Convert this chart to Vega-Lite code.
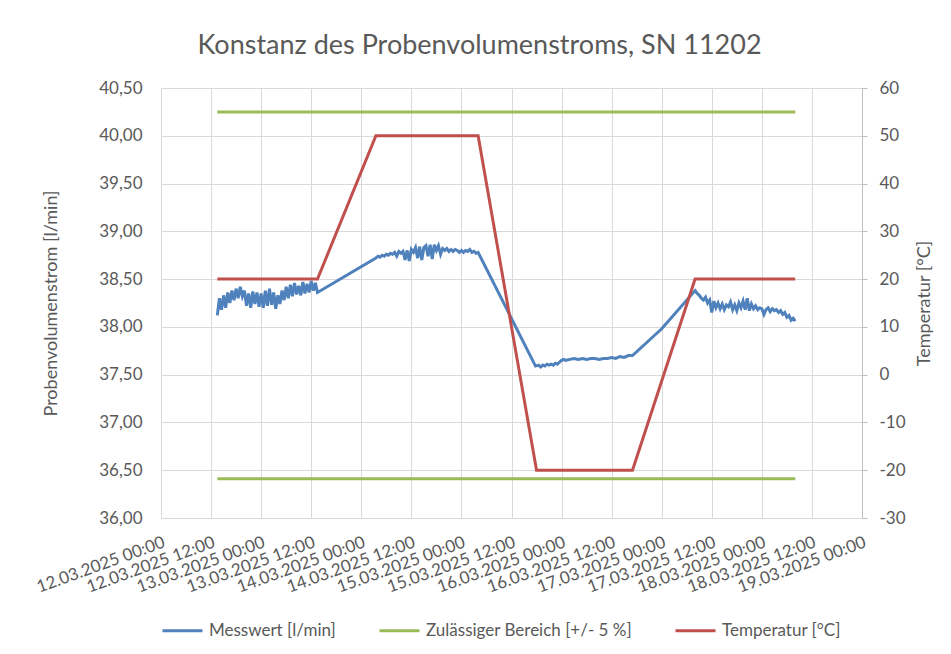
{
  "$schema": "https://vega.github.io/schema/vega-lite/v6.json",
  "width": 951,
  "height": 654,
  "autosize": {"type": "fit", "contains": "padding"},
  "padding": {"left": 33, "top": 32, "right": 17, "bottom": 15},
  "background": "#ffffff",
  "title": {"text": "Konstanz des Probenvolumenstroms, SN 11202", "font": "Lato", "fontSize": 27, "fontWeight": "normal", "color": "#595959", "anchor": "middle", "offset": 19, "dx": -32},
  "config": {
    "view": {"stroke": null},
    "font": "Lato"
  },
  "datasets": {
    "mess": [
      {"t": "2025-03-12T13:30Z", "v": 38.12}, {"t": "2025-03-12T14:00Z", "v": 38.30}, {"t": "2025-03-12T14:30Z", "v": 38.18}, {"t": "2025-03-12T15:00Z", "v": 38.33},
      {"t": "2025-03-12T15:30Z", "v": 38.20}, {"t": "2025-03-12T16:00Z", "v": 38.36}, {"t": "2025-03-12T16:30Z", "v": 38.25}, {"t": "2025-03-12T17:00Z", "v": 38.38},
      {"t": "2025-03-12T17:30Z", "v": 38.28}, {"t": "2025-03-12T18:00Z", "v": 38.40}, {"t": "2025-03-12T18:30Z", "v": 38.30}, {"t": "2025-03-12T19:00Z", "v": 38.42},
      {"t": "2025-03-12T19:30Z", "v": 38.32}, {"t": "2025-03-12T20:00Z", "v": 38.38}, {"t": "2025-03-12T20:30Z", "v": 38.22}, {"t": "2025-03-12T21:00Z", "v": 38.35},
      {"t": "2025-03-12T21:30Z", "v": 38.20}, {"t": "2025-03-12T22:00Z", "v": 38.37}, {"t": "2025-03-12T22:30Z", "v": 38.24}, {"t": "2025-03-12T23:00Z", "v": 38.36},
      {"t": "2025-03-12T23:30Z", "v": 38.21}, {"t": "2025-03-13T00:00Z", "v": 38.35}, {"t": "2025-03-13T00:30Z", "v": 38.20}, {"t": "2025-03-13T01:00Z", "v": 38.38},
      {"t": "2025-03-13T01:30Z", "v": 38.22}, {"t": "2025-03-13T02:00Z", "v": 38.40}, {"t": "2025-03-13T02:30Z", "v": 38.23}, {"t": "2025-03-13T03:00Z", "v": 38.36},
      {"t": "2025-03-13T03:30Z", "v": 38.19}, {"t": "2025-03-13T04:00Z", "v": 38.33}, {"t": "2025-03-13T04:30Z", "v": 38.24}, {"t": "2025-03-13T05:00Z", "v": 38.38},
      {"t": "2025-03-13T05:30Z", "v": 38.28}, {"t": "2025-03-13T06:00Z", "v": 38.42}, {"t": "2025-03-13T06:30Z", "v": 38.30}, {"t": "2025-03-13T07:00Z", "v": 38.44},
      {"t": "2025-03-13T07:30Z", "v": 38.32}, {"t": "2025-03-13T08:00Z", "v": 38.46}, {"t": "2025-03-13T08:30Z", "v": 38.34}, {"t": "2025-03-13T09:00Z", "v": 38.43},
      {"t": "2025-03-13T09:30Z", "v": 38.33}, {"t": "2025-03-13T10:00Z", "v": 38.47}, {"t": "2025-03-13T10:30Z", "v": 38.35}, {"t": "2025-03-13T11:00Z", "v": 38.45},
      {"t": "2025-03-13T11:30Z", "v": 38.36}, {"t": "2025-03-13T12:00Z", "v": 38.48}, {"t": "2025-03-13T12:30Z", "v": 38.38}, {"t": "2025-03-13T13:00Z", "v": 38.46},
      {"t": "2025-03-13T13:30Z", "v": 38.36},
      {"t": "2025-03-14T03:30Z", "v": 38.72}, {"t": "2025-03-14T04:00Z", "v": 38.74}, {"t": "2025-03-14T04:30Z", "v": 38.73}, {"t": "2025-03-14T05:00Z", "v": 38.75},
      {"t": "2025-03-14T05:30Z", "v": 38.74}, {"t": "2025-03-14T06:00Z", "v": 38.76}, {"t": "2025-03-14T06:30Z", "v": 38.75}, {"t": "2025-03-14T07:00Z", "v": 38.77},
      {"t": "2025-03-14T07:30Z", "v": 38.76}, {"t": "2025-03-14T08:00Z", "v": 38.78}, {"t": "2025-03-14T08:30Z", "v": 38.74}, {"t": "2025-03-14T09:00Z", "v": 38.79},
      {"t": "2025-03-14T09:30Z", "v": 38.77}, {"t": "2025-03-14T10:00Z", "v": 38.79}, {"t": "2025-03-14T10:30Z", "v": 38.70}, {"t": "2025-03-14T11:00Z", "v": 38.80},
      {"t": "2025-03-14T11:30Z", "v": 38.69}, {"t": "2025-03-14T12:00Z", "v": 38.81}, {"t": "2025-03-14T12:30Z", "v": 38.78}, {"t": "2025-03-14T13:00Z", "v": 38.83},
      {"t": "2025-03-14T13:30Z", "v": 38.72}, {"t": "2025-03-14T14:00Z", "v": 38.84}, {"t": "2025-03-14T14:30Z", "v": 38.70}, {"t": "2025-03-14T15:00Z", "v": 38.83},
      {"t": "2025-03-14T15:30Z", "v": 38.85}, {"t": "2025-03-14T16:00Z", "v": 38.74}, {"t": "2025-03-14T16:30Z", "v": 38.86}, {"t": "2025-03-14T17:00Z", "v": 38.71},
      {"t": "2025-03-14T17:30Z", "v": 38.86}, {"t": "2025-03-14T18:00Z", "v": 38.80}, {"t": "2025-03-14T18:30Z", "v": 38.85}, {"t": "2025-03-14T19:00Z", "v": 38.76},
      {"t": "2025-03-14T19:30Z", "v": 38.82}, {"t": "2025-03-14T20:00Z", "v": 38.80}, {"t": "2025-03-14T20:30Z", "v": 38.82}, {"t": "2025-03-14T21:00Z", "v": 38.79},
      {"t": "2025-03-14T21:30Z", "v": 38.81}, {"t": "2025-03-14T22:00Z", "v": 38.79}, {"t": "2025-03-14T22:30Z", "v": 38.81}, {"t": "2025-03-14T23:00Z", "v": 38.80},
      {"t": "2025-03-14T23:30Z", "v": 38.78}, {"t": "2025-03-15T00:00Z", "v": 38.80}, {"t": "2025-03-15T00:30Z", "v": 38.78}, {"t": "2025-03-15T01:00Z", "v": 38.80},
      {"t": "2025-03-15T01:30Z", "v": 38.79}, {"t": "2025-03-15T02:00Z", "v": 38.81}, {"t": "2025-03-15T02:30Z", "v": 38.78}, {"t": "2025-03-15T03:00Z", "v": 38.79},
      {"t": "2025-03-15T03:30Z", "v": 38.77}, {"t": "2025-03-15T04:00Z", "v": 38.78},
      {"t": "2025-03-15T17:45Z", "v": 37.59}, {"t": "2025-03-15T18:30Z", "v": 37.60}, {"t": "2025-03-15T19:00Z", "v": 37.58}, {"t": "2025-03-15T19:30Z", "v": 37.60},
      {"t": "2025-03-15T20:00Z", "v": 37.59}, {"t": "2025-03-15T20:30Z", "v": 37.61}, {"t": "2025-03-15T21:00Z", "v": 37.60}, {"t": "2025-03-15T21:30Z", "v": 37.61},
      {"t": "2025-03-15T22:00Z", "v": 37.60}, {"t": "2025-03-15T22:30Z", "v": 37.62}, {"t": "2025-03-15T23:00Z", "v": 37.61}, {"t": "2025-03-15T23:30Z", "v": 37.63},
      {"t": "2025-03-16T00:00Z", "v": 37.65}, {"t": "2025-03-16T00:30Z", "v": 37.66}, {"t": "2025-03-16T01:00Z", "v": 37.65}, {"t": "2025-03-16T02:00Z", "v": 37.66},
      {"t": "2025-03-16T03:00Z", "v": 37.67}, {"t": "2025-03-16T04:00Z", "v": 37.66}, {"t": "2025-03-16T05:00Z", "v": 37.67}, {"t": "2025-03-16T06:00Z", "v": 37.66},
      {"t": "2025-03-16T07:00Z", "v": 37.67}, {"t": "2025-03-16T08:00Z", "v": 37.67}, {"t": "2025-03-16T09:00Z", "v": 37.66}, {"t": "2025-03-16T10:00Z", "v": 37.67},
      {"t": "2025-03-16T11:00Z", "v": 37.67}, {"t": "2025-03-16T12:00Z", "v": 37.68}, {"t": "2025-03-16T13:00Z", "v": 37.67}, {"t": "2025-03-16T14:00Z", "v": 37.69},
      {"t": "2025-03-16T15:00Z", "v": 37.68}, {"t": "2025-03-16T16:00Z", "v": 37.70}, {"t": "2025-03-16T17:00Z", "v": 37.70},
      {"t": "2025-03-17T00:00Z", "v": 37.98},
      {"t": "2025-03-17T08:00Z", "v": 38.38}, {"t": "2025-03-17T08:30Z", "v": 38.35}, {"t": "2025-03-17T09:00Z", "v": 38.33}, {"t": "2025-03-17T09:30Z", "v": 38.30},
      {"t": "2025-03-17T10:00Z", "v": 38.28}, {"t": "2025-03-17T10:30Z", "v": 38.31}, {"t": "2025-03-17T11:00Z", "v": 38.25}, {"t": "2025-03-17T11:30Z", "v": 38.28},
      {"t": "2025-03-17T12:00Z", "v": 38.15}, {"t": "2025-03-17T12:30Z", "v": 38.27}, {"t": "2025-03-17T13:00Z", "v": 38.20}, {"t": "2025-03-17T13:30Z", "v": 38.25},
      {"t": "2025-03-17T14:00Z", "v": 38.19}, {"t": "2025-03-17T14:30Z", "v": 38.24}, {"t": "2025-03-17T15:00Z", "v": 38.18}, {"t": "2025-03-17T15:30Z", "v": 38.23},
      {"t": "2025-03-17T16:00Z", "v": 38.21}, {"t": "2025-03-17T16:30Z", "v": 38.26}, {"t": "2025-03-17T17:00Z", "v": 38.18}, {"t": "2025-03-17T17:30Z", "v": 38.23},
      {"t": "2025-03-17T18:00Z", "v": 38.17}, {"t": "2025-03-17T18:30Z", "v": 38.25}, {"t": "2025-03-17T19:00Z", "v": 38.20}, {"t": "2025-03-17T19:30Z", "v": 38.27},
      {"t": "2025-03-17T20:00Z", "v": 38.18}, {"t": "2025-03-17T20:30Z", "v": 38.30}, {"t": "2025-03-17T21:00Z", "v": 38.17}, {"t": "2025-03-17T21:30Z", "v": 38.24},
      {"t": "2025-03-17T22:00Z", "v": 38.19}, {"t": "2025-03-17T22:30Z", "v": 38.22}, {"t": "2025-03-17T23:00Z", "v": 38.18}, {"t": "2025-03-17T23:30Z", "v": 38.20},
      {"t": "2025-03-18T00:00Z", "v": 38.19}, {"t": "2025-03-18T00:30Z", "v": 38.13}, {"t": "2025-03-18T01:00Z", "v": 38.18}, {"t": "2025-03-18T01:30Z", "v": 38.20},
      {"t": "2025-03-18T02:00Z", "v": 38.16}, {"t": "2025-03-18T02:30Z", "v": 38.19}, {"t": "2025-03-18T03:00Z", "v": 38.17}, {"t": "2025-03-18T03:30Z", "v": 38.18},
      {"t": "2025-03-18T04:00Z", "v": 38.15}, {"t": "2025-03-18T04:30Z", "v": 38.17}, {"t": "2025-03-18T05:00Z", "v": 38.13}, {"t": "2025-03-18T05:30Z", "v": 38.15},
      {"t": "2025-03-18T06:00Z", "v": 38.10}, {"t": "2025-03-18T06:30Z", "v": 38.12}, {"t": "2025-03-18T07:00Z", "v": 38.07}, {"t": "2025-03-18T07:30Z", "v": 38.09},
      {"t": "2025-03-18T08:00Z", "v": 38.06}
    ],
    "grenz": [
      {"b": "oben", "t": "2025-03-12T13:30Z", "v": 40.25}, {"b": "oben", "t": "2025-03-18T08:00Z", "v": 40.25},
      {"b": "unten", "t": "2025-03-12T13:30Z", "v": 36.41}, {"b": "unten", "t": "2025-03-18T08:00Z", "v": 36.41}
    ],
    "temp": [
      {"t": "2025-03-12T13:30Z", "tv": 20}, {"t": "2025-03-13T13:30Z", "tv": 20}, {"t": "2025-03-14T03:30Z", "tv": 50}, {"t": "2025-03-15T04:00Z", "tv": 50},
      {"t": "2025-03-15T18:00Z", "tv": -20}, {"t": "2025-03-16T17:00Z", "tv": -20}, {"t": "2025-03-17T08:00Z", "tv": 20}, {"t": "2025-03-18T08:00Z", "tv": 20}
    ]
  },
  "layer": [
    {
      "data": {"name": "mess"},
      "mark": {"type": "line", "strokeWidth": 3},
      "encoding": {
        "x": {
          "field": "t", "type": "temporal",
          "scale": {"type": "utc", "domain": [1741737600000, 1742342400000]},
          "axis": {
            "title": null, "format": "%d.%m.%Y %H:%M",
            "values": [1741737600000, 1741780800000, 1741824000000, 1741867200000, 1741910400000, 1741953600000, 1741996800000, 1742040000000, 1742083200000, 1742126400000, 1742169600000, 1742212800000, 1742256000000, 1742299200000, 1742342400000],
            "labelAngle": -20, "labelAlign": "right", "labelBaseline": "top", "labelPadding": 16, "labelOverlap": false,
            "labelFontSize": 17, "labelColor": "#595959",
            "grid": true, "gridColor": "#d9d9d9", "ticks": false, "domainColor": "#d9d9d9"
          }
        },
        "y": {
          "field": "v", "type": "quantitative",
          "scale": {"domain": [36, 40.5], "nice": false, "zero": false},
          "axis": {
            "title": "Probenvolumenstrom [l/min]", "titleFontSize": 18, "titleFontWeight": "normal", "titleColor": "#595959", "titlePadding": 38,
            "values": [36, 36.5, 37, 37.5, 38, 38.5, 39, 39.5, 40, 40.5],
            "labelExpr": "replace(format(datum.value, '.2f'), '.', ',')",
            "labelFontSize": 17, "labelColor": "#595959", "labelPadding": 19,
            "grid": true, "gridColor": "#d9d9d9", "ticks": false, "domain": false
          }
        },
        "color": {
          "datum": "Messwert [l/min]",
          "scale": {"domain": ["Messwert [l/min]", "Zulässiger Bereich [+/- 5 %]", "Temperatur [°C]"], "range": ["#4f81bd", "#9bbb59", "#c0504d"]},
          "legend": {
            "title": null, "orient": "bottom", "direction": "horizontal", "offset": 13,
            "symbolType": "stroke", "symbolSize": 1600, "symbolStrokeWidth": 3, "labelLimit": 400,
            "labelFontSize": 17, "labelColor": "#595959", "labelOffset": 5, "columnPadding": 37
          }
        }
      }
    },
    {
      "data": {"name": "grenz"},
      "mark": {"type": "line", "strokeWidth": 3},
      "encoding": {
        "x": {"field": "t", "type": "temporal"},
        "y": {"field": "v", "type": "quantitative", "scale": {"domain": [36, 40.5], "nice": false, "zero": false}, "axis": null},
        "detail": {"field": "b"},
        "color": {"datum": "Zulässiger Bereich [+/- 5 %]"}
      }
    },
    {
      "data": {"name": "temp"},
      "mark": {"type": "line", "strokeWidth": 3},
      "encoding": {
        "x": {"field": "t", "type": "temporal"},
        "y": {
          "field": "tv", "type": "quantitative",
          "scale": {"domain": [-30, 60], "nice": false, "zero": false},
          "axis": {
            "orient": "right", "title": "Temperatur [°C]", "titleFontSize": 18, "titleFontWeight": "normal", "titleColor": "#595959", "titleAngle": 270, "titlePadding": 28,
            "values": [-30, -20, -10, 0, 10, 20, 30, 40, 50, 60],
            "labelExpr": "datum.value < 0 ? '-' + abs(datum.value) : '' + datum.value",
            "labelFontSize": 17, "labelColor": "#595959", "labelPadding": 12,
            "grid": false, "tickSize": 5, "tickColor": "#bfbfbf", "domainColor": "#bfbfbf"
          }
        },
        "color": {"datum": "Temperatur [°C]"}
      }
    }
  ],
  "resolve": {"scale": {"y": "independent"}}
}
